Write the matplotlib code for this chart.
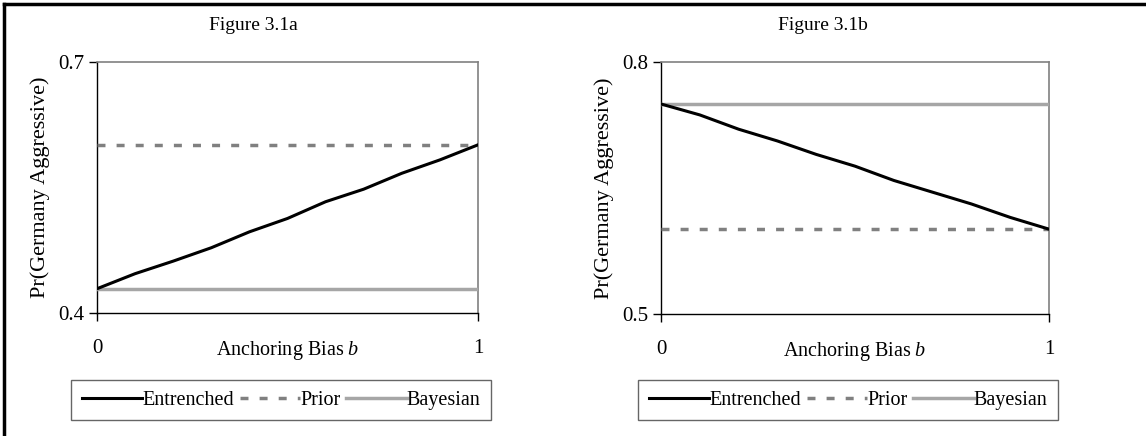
import numpy as np
import matplotlib
matplotlib.use("Agg")
import matplotlib.pyplot as plt
from matplotlib.lines import Line2D

plt.rcParams['font.family'] = ['Liberation Serif', 'DejaVu Serif']
plt.rcParams['mathtext.fontset'] = 'custom'
plt.rcParams['mathtext.rm'] = 'Liberation Serif'
plt.rcParams['mathtext.it'] = 'Liberation Serif:italic'

# anchoring bias b
bias = [0.0, 0.1, 0.2, 0.3, 0.4, 0.5, 0.6, 0.7, 0.8, 0.9, 1.0]

# Figure 3.1a
entrenched_a = [0.429, 0.447, 0.462, 0.478, 0.497, 0.513, 0.533, 0.548, 0.567, 0.583, 0.601]
prior_a = 0.601
bayes_a = 0.429

# Figure 3.1b
entrenched_b = [0.750, 0.737, 0.720, 0.706, 0.690, 0.676, 0.659, 0.645, 0.631, 0.615, 0.601]
prior_b = 0.601
bayes_b = 0.750

W, H = 1146, 436
fig = plt.figure(figsize=(W / 100, H / 100), dpi=100)

def px(x0, y0, x1, y1):
    return [x0 / W, 1 - y1 / H, (x1 - x0) / W, (y1 - y0) / H]

panels = [
    dict(rect=px(97, 62, 478, 313), ent=entrenched_a, prior=prior_a, bayes=bayes_a,
         ylim=(0.4, 0.7), title="Figure 3.1a", title_x=253, leg_x=281),
    dict(rect=px(661, 62, 1049, 314), ent=entrenched_b, prior=prior_b, bayes=bayes_b,
         ylim=(0.5, 0.8), title="Figure 3.1b", title_x=823, leg_x=848),
]

for p in panels:
    ax = fig.add_axes(p['rect'])
    l1, = ax.plot(bias, p['ent'], color='black', lw=2.2, label='Entrenched', zorder=4)
    l2, = ax.plot(bias, [p['prior']] * len(bias), color='#808080', lw=2.5,
                  linestyle=(0, (2.3, 3.2)), label='Prior', zorder=3)
    l3, = ax.plot(bias, [p['bayes']] * len(bias), color='#a6a6a6', lw=2.5,
                  label='Bayesian', zorder=3)
    ax.set_xlim(0, 1)
    ax.set_ylim(*p['ylim'])
    ax.set_xticks([0, 1])
    ax.set_xticklabels(['0', '1'])
    ax.set_yticks(list(p['ylim']))
    ax.set_yticklabels([f"{v:.1f}" for v in p['ylim']])
    ax.tick_params(axis='both', direction='out', length=6, width=1, labelsize=15, color='black')
    ax.tick_params(axis='x', pad=13)
    ax.tick_params(axis='y', pad=3)
    for s in ['left', 'bottom']:
        ax.spines[s].set_color('black')
        ax.spines[s].set_linewidth(1)
    for s in ['top', 'right']:
        ax.spines[s].set_color('#808080')
        ax.spines[s].set_linewidth(1.2)
    ax.set_ylabel('Pr(Germany Aggressive)', fontsize=16)
    ax.yaxis.label.set_va('center')
    ax.yaxis.set_label_coords(-57 / (p['rect'][2] * W), 0.5)
    ax.text(0.5, -37 / 251, 'Anchoring Bias $\\mathit{b}$', transform=ax.transAxes,
            ha='center', va='center', fontsize=14.5)
    fig.text(p['title_x'] / W, 1 - 25 / H, p['title'], ha='center', va='center', fontsize=14)
    leg = fig.legend(handles=[l1, l2, l3], loc='center',
                     bbox_to_anchor=(p['leg_x'] / W, 1 - 400 / H), ncol=3,
                     fontsize=14.5, frameon=True, fancybox=False, edgecolor='#404040',
                     handlelength=3.0, handletextpad=0.0, columnspacing=0.3,
                     borderpad=0.5)
    leg.get_frame().set_linewidth(1)

# page border (left and top)
fig.add_artist(Line2D([4 / W, 4 / W], [0, 1 - 4 / H], color='black', lw=2.5))
fig.add_artist(Line2D([4 / W, 1], [1 - 4 / H, 1 - 4 / H], color='black', lw=2.5))

fig.savefig('out.png', dpi=100)
